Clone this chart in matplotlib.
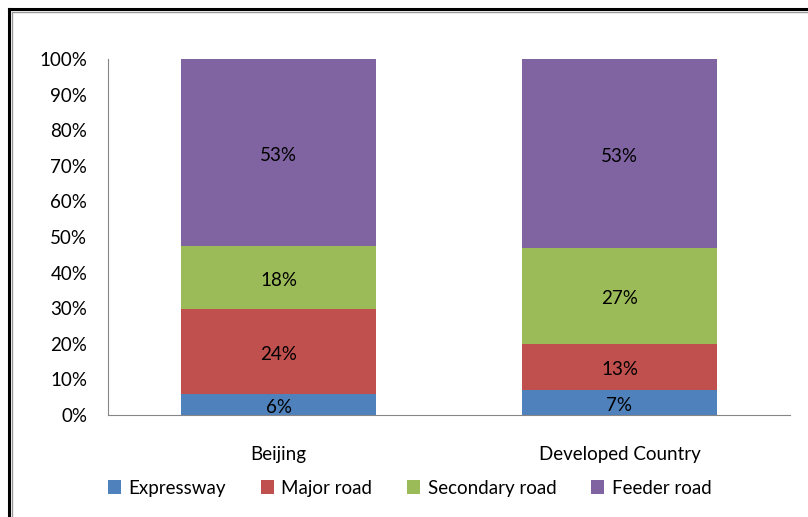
import numpy as np
import matplotlib.pyplot as plt
from matplotlib.lines import Line2D

plt.rcParams['font.family'] = ['Lato', 'DejaVu Sans']

# data
categories = ['Beijing', 'Developed Country']
series = ['Expressway', 'Major road', 'Secondary road', 'Feeder road']
expressway = [6, 7]
major_road = [24, 13]
secondary_road = [18, 27]
feeder_road = [53, 53]
colors = ['#4F81BD', '#C0504D', '#9BBB59', '#8064A2']

values = np.array([expressway, major_road, secondary_road, feeder_road], dtype=float)
shares = values / values.sum(axis=0) * 100  # 100% stacked

fig = plt.figure(figsize=(8.08, 5.17), dpi=100)
ax = fig.add_axes([0.1337, 0.1973, 0.8440, 0.6886])

x = np.arange(len(categories))
bottom = np.zeros(len(categories))
for name, vals, raw, c in zip(series, shares, values, colors):
    ax.bar(x, vals, bottom=bottom, width=0.57, color=c, label=name,
           edgecolor='none')
    for xi, b, v, r in zip(x, bottom, vals, raw):
        ax.text(xi, b + v / 2 - 0.8, f'{int(r)}%', ha='center', va='center',
                fontsize=13.5, color='black')
    bottom += vals

ax.set_xlim(-0.5, 1.5)
ax.set_ylim(0, 100)
ax.set_yticks(np.arange(0, 101, 10))
ax.set_yticklabels([f'{v}%' for v in range(0, 101, 10)])
ax.set_xticks(x)
ax.set_xticklabels(categories)
ax.tick_params(axis='both', length=0, labelsize=13.5)
ax.tick_params(axis='y', pad=15)
ax.tick_params(axis='x', pad=22)
for s in ['top', 'right']:
    ax.spines[s].set_visible(False)
ax.spines['left'].set_color('#868686')
ax.spines['bottom'].set_color('#868686')

handles, labels = ax.get_legend_handles_labels()
fig.legend(handles, labels, loc='center', bbox_to_anchor=(0.507, 0.056),
           ncol=4, frameon=False, fontsize=13.5, handlelength=0.7,
           handleheight=0.7, handletextpad=0.4, columnspacing=1.85)

# frame lines like the original border
fig.add_artist(Line2D([8.5 / 808, 8.5 / 808], [0, 1 - 8.5 / 517], color='black', lw=2.2))
fig.add_artist(Line2D([8.5 / 808, 1], [1 - 8.5 / 517, 1 - 8.5 / 517], color='black', lw=2.2))
fig.add_artist(Line2D([11.5 / 808, 11.5 / 808], [0, 1 - 11.5 / 517], color='#999999', lw=1))
fig.add_artist(Line2D([11.5 / 808, 1], [1 - 11.5 / 517, 1 - 11.5 / 517], color='#999999', lw=1))

fig.savefig('out.png', dpi=100)
